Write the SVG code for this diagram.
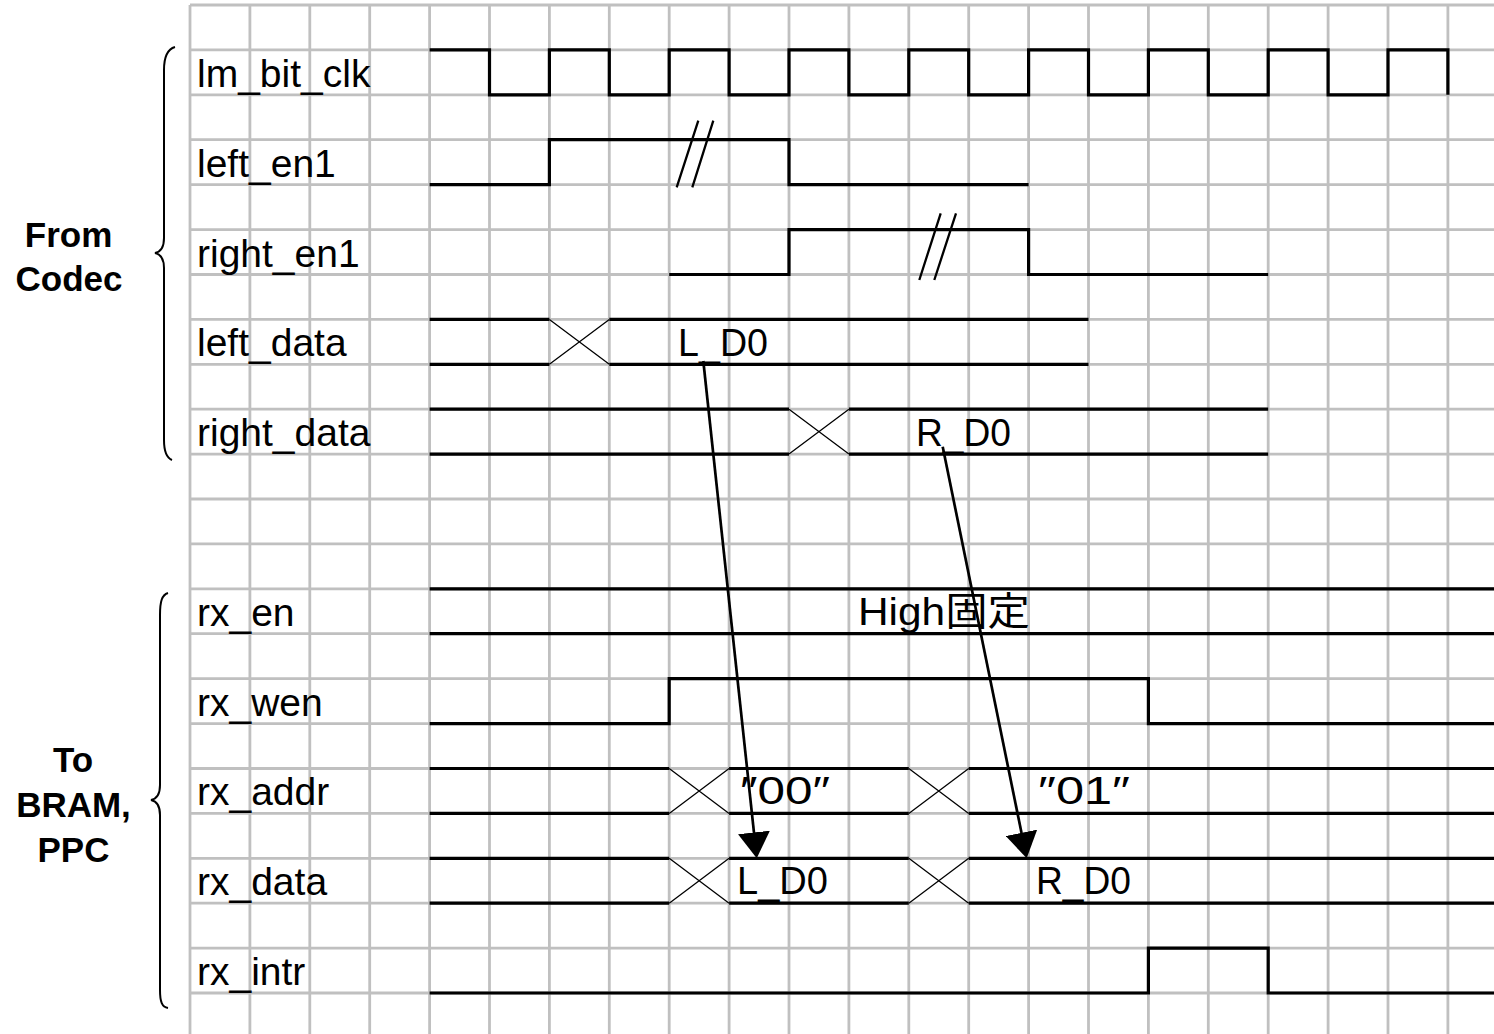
<svg xmlns="http://www.w3.org/2000/svg" width="1494" height="1034" viewBox="0 0 1494 1034">
<defs>
<style>
.grid{stroke:#c0c0c0;stroke-width:2.8;fill:none}
.sig{stroke:#000;stroke-width:3.2;fill:none;stroke-linejoin:miter}
.x{stroke:#000;stroke-width:1.3;fill:none}
.brk{stroke:#000;stroke-width:2.3;fill:none}
.brace{stroke:#000;stroke-width:2;fill:none}
.arrow{stroke:#000;stroke-width:2.7;fill:none;marker-end:url(#ah)}
.lbl{font-family:"Liberation Sans","Noto Sans CJK JP",sans-serif;font-size:39px;fill:#000}
.grp{font-family:"Liberation Sans",Arial,sans-serif;font-size:35px;font-weight:bold;fill:#000;text-anchor:middle}
</style>
<marker id="ah" markerUnits="userSpaceOnUse" viewBox="0 0 26 32" refX="6" refY="16" markerWidth="26" markerHeight="32" orient="auto">
<path d="M0,0 L26,16 L0,32 z" fill="#000"/>
</marker>
</defs>
<rect width="1494" height="1034" fill="#fff"/>
<g id="grid" class="grid">
<path d="M190 5V1034M249.9 5V1034M309.8 5V1034M369.7 5V1034M429.6 5V1034M489.5 5V1034M549.4 5V1034M609.3 5V1034M669.2 5V1034M729.1 5V1034M789 5V1034M848.9 5V1034M908.8 5V1034M968.7 5V1034M1028.6 5V1034M1088.5 5V1034M1148.4 5V1034M1208.3 5V1034M1268.2 5V1034M1328.1 5V1034M1388 5V1034M1447.9 5V1034"/>
<path d="M190 5H1494M190 49.9H1494M190 94.8H1494M190 139.7H1494M190 184.6H1494M190 229.6H1494M190 274.5H1494M190 319.4H1494M190 364.3H1494M190 409.2H1494M190 454.1H1494M190 499H1494M190 543.9H1494M190 588.8H1494M190 633.7H1494M190 678.7H1494M190 723.6H1494M190 768.5H1494M190 813.4H1494M190 858.3H1494M190 903.2H1494M190 948.1H1494M190 993H1494"/>
</g>
<g id="group-from-codec">
<path class="brace" d="M175 47C168 49 164 55 164 70L164 238C164 248 160 252 155 253C160 254 164 258 164 268L164 440C164 452 167 458 172 460"/>
<text class="grp" x="68.5" y="246.7">From</text>
<text class="grp" x="69" y="290.5">Codec</text>
</g>
<g id="group-to-bram">
<path class="brace" d="M168 593C162 595 160 601 160 615L160 785C160 795 156 799 151 800C156 801 160 805 160 815L160 990C160 1002 162 1007 168 1008"/>
<text class="grp" x="73" y="771.7">To</text>
<text class="grp" x="73.5" y="816.7">BRAM,</text>
<text class="grp" x="73.5" y="861.7">PPC</text>
</g>
<g id="lm_bit_clk">
<text class="lbl" x="197" y="86.8">lm_bit_clk</text>
<path class="sig" d="M429.6 49.9H489.5V94.8H549.4V49.9H609.3V94.8H669.2V49.9H729.1V94.8H789V49.9H848.9V94.8H908.8V49.9H968.7V94.8H1028.6V49.9H1088.5V94.8H1148.4V49.9H1208.3V94.8H1268.2V49.9H1328.1V94.8H1388V49.9H1447.9V94.8"/>
</g>
<g id="left_en1">
<text class="lbl" x="197" y="176.6">left_en1</text>
<path class="sig" d="M429.6 184.6H549.4V139.7H789V184.6H1028.6"/>
<path class="brk" d="M676.7 187.3L698.3 120.7M692.3 187.3L713.3 120.7"/>
</g>
<g id="right_en1">
<text class="lbl" x="197" y="266.5">right_en1</text>
<path class="sig" d="M669.2 274.5H789V229.6H1028.6V274.5H1268.2"/>
<path class="brk" d="M919.3 280L940.7 213.3M934.3 280L956 213.3"/>
</g>
<g id="left_data">
<text class="lbl" x="197" y="356.3">left_data</text>
<path class="sig" d="M429.6 319.4H549.4M609.3 319.4H1088.5M429.6 364.3H549.4M609.3 364.3H1088.5"/>
<path class="x" d="M549.4 319.4L609.3 364.3M549.4 364.3L609.3 319.4"/>
<text class="lbl" x="678" y="356" textLength="90" lengthAdjust="spacingAndGlyphs">L_D0</text>
</g>
<g id="right_data">
<text class="lbl" x="197" y="446.1">right_data</text>
<path class="sig" d="M429.6 409.2H789M848.9 409.2H1268.2M429.6 454.1H789M848.9 454.1H1268.2"/>
<path class="x" d="M789 409.2L848.9 454.1M789 454.1L848.9 409.2"/>
<text class="lbl" x="916" y="446" textLength="95" lengthAdjust="spacingAndGlyphs">R_D0</text>
</g>
<g id="rx_en">
<text class="lbl" x="197" y="625.7">rx_en</text>
<path class="sig" d="M429.6 588.8H1494M429.6 633.7H1494"/>
<text class="lbl" x="858" y="625" textLength="172" lengthAdjust="spacingAndGlyphs">High固定</text>
</g>
<g id="rx_wen">
<text class="lbl" x="197" y="715.6">rx_wen</text>
<path class="sig" d="M429.6 723.6H669.2V678.7H1148.4V723.6H1494"/>
</g>
<g id="rx_addr">
<text class="lbl" x="197" y="805.4">rx_addr</text>
<path class="sig" d="M429.6 768.5H669.2M729.1 768.5H908.8M968.7 768.5H1494M429.6 813.4H669.2M729.1 813.4H908.8M968.7 813.4H1494"/>
<path class="x" d="M669.2 768.5L729.1 813.4M669.2 813.4L729.1 768.5M908.8 768.5L968.7 813.4M908.8 813.4L968.7 768.5"/>
<text class="lbl" x="740" y="804" textLength="90" lengthAdjust="spacingAndGlyphs">″00″</text>
<text class="lbl" x="1038" y="804" textLength="92" lengthAdjust="spacingAndGlyphs">″01″</text>
</g>
<g id="rx_data">
<text class="lbl" x="197" y="895.2">rx_data</text>
<path class="sig" d="M429.6 858.3H669.2M729.1 858.3H908.8M968.7 858.3H1494M429.6 903.2H669.2M729.1 903.2H908.8M968.7 903.2H1494"/>
<path class="x" d="M669.2 858.3L729.1 903.2M669.2 903.2L729.1 858.3M908.8 858.3L968.7 903.2M908.8 903.2L968.7 858.3"/>
<text class="lbl" x="737" y="894" textLength="91" lengthAdjust="spacingAndGlyphs">L_D0</text>
<text class="lbl" x="1036" y="894" textLength="95" lengthAdjust="spacingAndGlyphs">R_D0</text>
</g>
<g id="rx_intr">
<text class="lbl" x="197" y="985">rx_intr</text>
<path class="sig" d="M429.6 993H1148.4V948.1H1268.2V993H1494"/>
</g>
<g id="connectors">
<path class="arrow" d="M703.3 361L754.6 838.4"/>
<path class="arrow" d="M942.7 446.7L1022.7 838.7"/>
</g>
</svg>
